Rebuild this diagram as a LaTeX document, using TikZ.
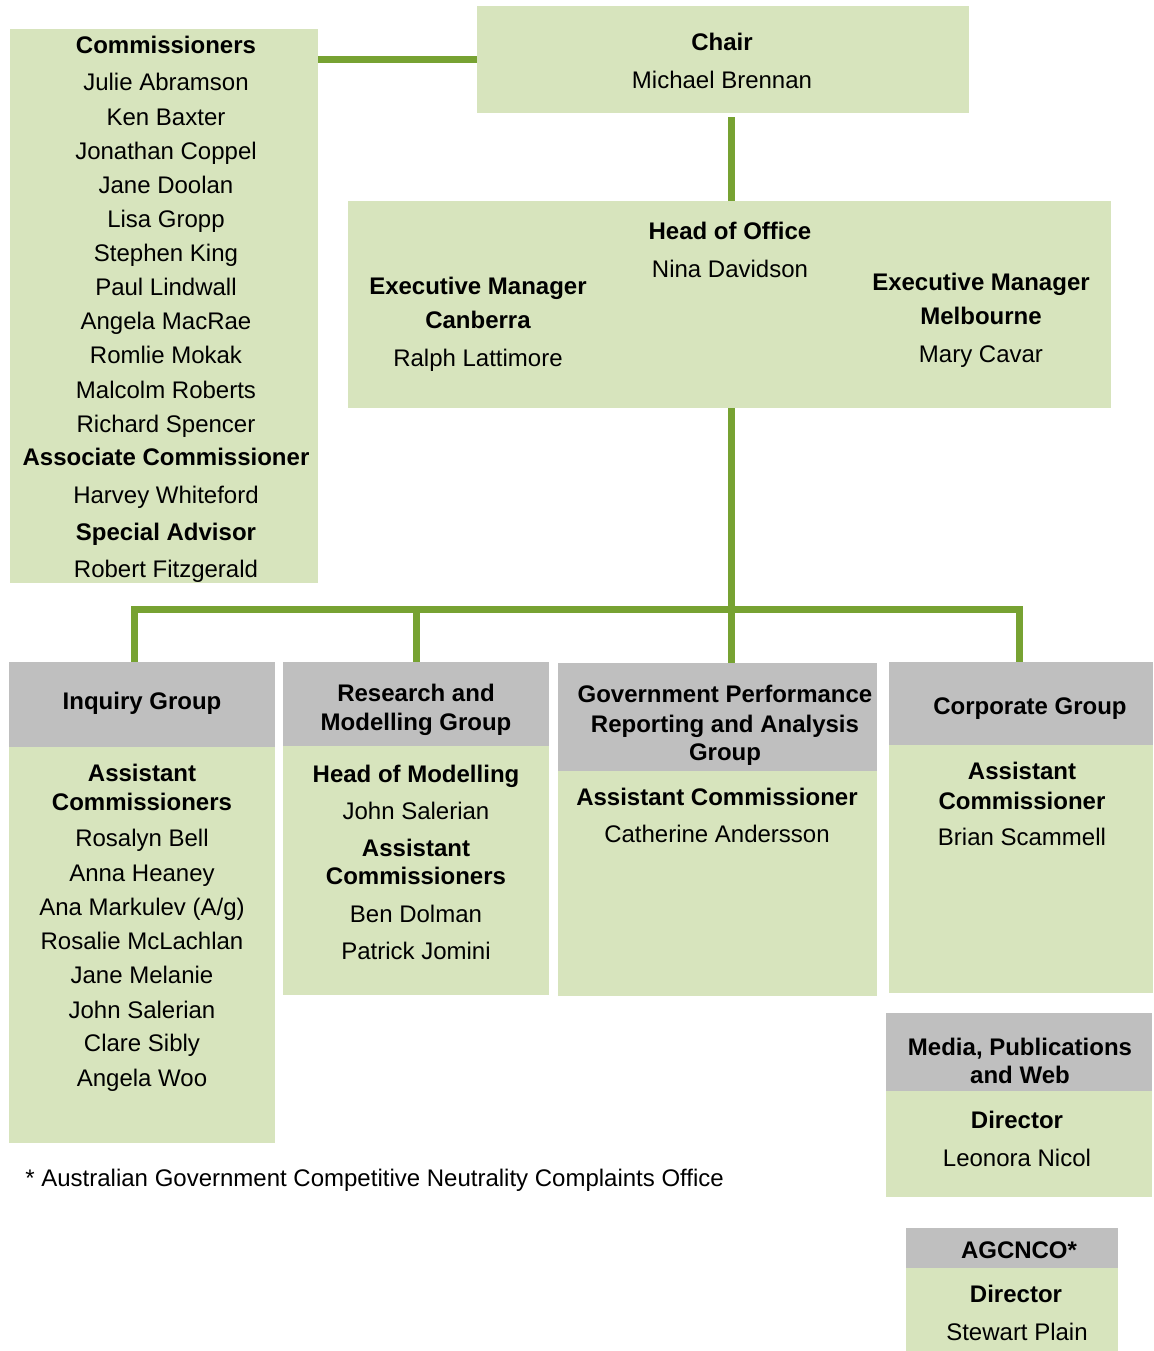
\documentclass[tikz,border=0pt]{standalone}
\usepackage{fontspec}
\setmainfont{Liberation Sans}
\usetikzlibrary{fit}
\definecolor{boxgreen}{HTML}{D7E4BD}
\definecolor{boxgray}{HTML}{BFBFBF}
\definecolor{linegreen}{HTML}{77A232}
\tikzset{
  gbox/.style={fill=boxgreen, draw=none, inner sep=0pt},
  hbox/.style={fill=boxgray, draw=none, inner sep=0pt},
  conn/.style={draw=linegreen, line width=3.5pt, line join=miter},
  t/.style={anchor=base, inner sep=0pt, text=black, font=\fontsize{12}{14}\selectfont},
  b/.style={anchor=base, inner sep=0pt, text=black, font=\fontsize{12}{14}\selectfont\bfseries}
}
\begin{document}
\begin{tikzpicture}[x=0.5pt, y=-0.5pt]
\useasboundingbox (0,0) rectangle (1154,1351);
% boxes
\node[gbox, fit={(10,29) (318,583)}] (comm) {};
\node[gbox, fit={(477,6) (969,113)}] (chair) {};
\node[gbox, fit={(348,201) (1111,408)}] (hoo) {};
\node[hbox, fit={(9,662) (275,747)}] (inqH) {};
\node[gbox, fit={(9,747) (275,1143)}] (inqB) {};
\node[hbox, fit={(283,662) (549,746)}] (resH) {};
\node[gbox, fit={(283,746) (549,995)}] (resB) {};
\node[hbox, fit={(558,663) (877,771)}] (govH) {};
\node[gbox, fit={(558,771) (877,996)}] (govB) {};
\node[hbox, fit={(889,662) (1153,745)}] (corH) {};
\node[gbox, fit={(889,745) (1153,993)}] (corB) {};
\node[hbox, fit={(886,1013) (1152,1091)}] (medH) {};
\node[gbox, fit={(886,1091) (1152,1197)}] (medB) {};
\node[hbox, fit={(906,1228) (1118,1268)}] (agH) {};
\node[gbox, fit={(906,1268) (1118,1351)}] (agB) {};
% connector coordinates
\coordinate (dInq) at (134,609);
\coordinate (dRes) at (416,609);
\coordinate (dGov) at (731,609);
\coordinate (dCor) at (1019,609);
% connectors
\draw[conn] (comm.east |- chair.west) -- (chair.west);
\draw[conn, shorten <=2pt] (chair.south -| dGov) -- (hoo.north -| dGov);
\draw[conn] (hoo.south -| dGov) -- (govH.north -| dGov);
\draw[conn] (inqH.north -| dInq) |- (dCor) -- (corH.north -| dCor);
\draw[conn] (dRes) -- (resH.north -| dRes);
% Commissioners
\foreach \y/\s/\txt [count=\i] in {53/b/Commissioners, 90/t/Julie Abramson, 125/t/Ken Baxter,
  159/t/Jonathan Coppel, 193/t/Jane Doolan, 227/t/Lisa Gropp, 261/t/Stephen King,
  295/t/Paul Lindwall, 329/t/Angela MacRae, 363/t/Romlie Mokak, 398/t/Malcolm Roberts,
  432/t/Richard Spencer, 465/b/Associate Commissioner, 503/t/Harvey Whiteford,
  540/b/Special Advisor, 577/t/Robert Fitzgerald}
  \node[\s] (cm\i) at (166,\y) {\txt};
% Chair
\node[b] (ch1) at (722,50) {Chair};
\node[t] (ch2) at (722,88) {Michael Brennan};
% Head of office
\node[b] (ho1) at (730,239) {Head of Office};
\node[t] (ho2) at (730,277) {Nina Davidson};
\node[b] (ec1) at (478,294) {Executive Manager};
\node[b] (ec2) at (478,328) {Canberra};
\node[t] (ec3) at (478,366) {Ralph Lattimore};
\node[b] (em1) at (981,290) {Executive Manager};
\node[b] (em2) at (981,324) {Melbourne};
\node[t] (em3) at (981,362) {Mary Cavar};
% Inquiry group
\node[b] (iq0) at (142,709) {Inquiry Group};
\foreach \y/\s/\txt [count=\i] in {781/b/Assistant, 810/b/Commissioners, 846/t/Rosalyn Bell,
  881/t/Anna Heaney, 915/t/Ana Markulev (A\slash g), 949/t/Rosalie McLachlan, 983/t/Jane Melanie,
  1018/t/John Salerian, 1051/t/Clare Sibly, 1086/t/Angela Woo}
  \node[\s] (iq\i) at (142,\y) {\txt};
% Research and modelling
\node[b] (rs1) at (416,701) {Research and};
\node[b] (rs2) at (416,730) {Modelling Group};
\foreach \y/\s/\txt [count=\i] in {782/b/Head of Modelling, 819/t/John Salerian, 856/b/Assistant,
  884/b/Commissioners, 922/t/Ben Dolman, 959/t/Patrick Jomini}
  \node[\s] (rb\i) at (416,\y) {\txt};
% Government performance
\node[b] (gv1) at (725,702) {Government Performance};
\node[b] (gv2) at (725,732) {Reporting and Analysis};
\node[b] (gv3) at (725,760) {Group};
\node[b] (gv4) at (717,805) {Assistant Commissioner};
\node[t] (gv5) at (717,842) {Catherine Andersson};
% Corporate
\node[b] (co1) at (1030,714) {Corporate Group};
\node[b] (co2) at (1022,779) {Assistant};
\node[b] (co3) at (1022,809) {Commissioner};
\node[t] (co4) at (1022,845) {Brian Scammell};
% Media
\node[b] (md1) at (1020,1055) {Media, Publications};
\node[b] (md2) at (1020,1083) {and Web};
\node[b] (md3) at (1017,1128) {Director};
\node[t] (md4) at (1017,1166) {Leonora Nicol};
% AGCNCO
\node[b] (ag1) at (1019,1258) {AGCNCO*};
\node[b] (ag2) at (1016,1302) {Director};
\node[t] (ag3) at (1017,1340) {Stewart Plain};
% footnote
\node[t, anchor=base west] (fn) at (25,1186) {* Australian Government Competitive Neutrality Complaints Office};
\end{tikzpicture}
\end{document}
